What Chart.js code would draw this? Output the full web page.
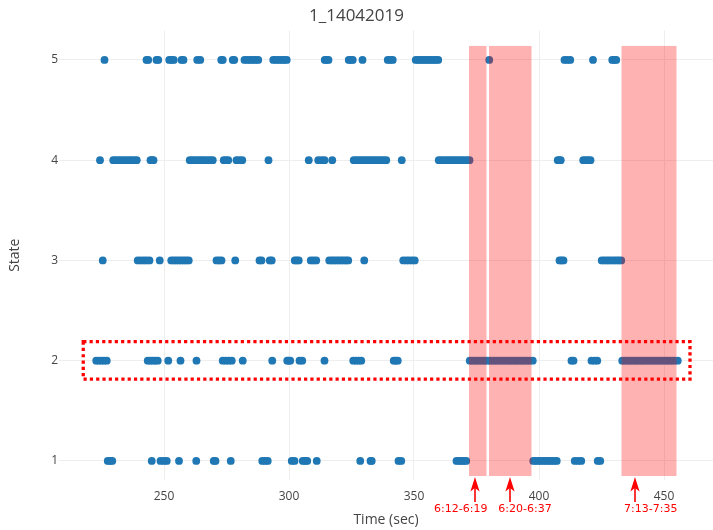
<!DOCTYPE html>
<html>
<head>
<meta charset="utf-8">
<script src="https://cdn.jsdelivr.net/npm/chart.js@4.4.1/dist/chart.umd.min.js"></script>
<style>
  html, body { margin: 0; padding: 0; background: #ffffff; }
  #wrap { width: 713px; height: 530px; }
</style>
</head>
<body>
<div id="wrap"><canvas id="c" width="713" height="530"></canvas></div>
<script>
// ---- data ----
const chartTitle = '1_14042019';
const xTitle = 'Time (sec)';
const yTitle = 'State';
const stateLevels = [1, 2, 3, 4, 5];
const xTickValues = [250, 300, 350, 400, 450];

// observation times (sec) for each state
const state1Times = [227.5, 228.4, 229.3, 245.1, 248.6, 249.9, 251.1, 256.0, 262.9, 269.9, 270.6, 276.7,
  289.3, 290.4, 291.5, 301.1, 302.2, 305.5, 306.4, 307.3, 311.1, 328.5, 332.6, 333.1, 343.8, 344.9,
  367.0, 368.0, 369.0, 369.9, 370.9, 397.7, 398.7, 399.8, 400.8, 401.9, 402.9, 404.0, 405.0, 406.1, 407.1,
  414.3, 415.6, 416.9, 423.5, 424.5];

const state2Times = [222.9, 223.9, 225.0, 226.0, 227.1, 243.5, 244.5, 245.5, 246.5, 247.5, 251.7, 256.6,
  263.0, 273.5, 274.7, 275.9, 277.1, 281.5, 293.3, 299.3, 299.9, 300.5, 304.2, 305.3, 314.2,
  325.7, 326.8, 327.8, 328.9, 341.9, 342.7, 343.5,
  372.3, 373.3, 374.3, 375.3, 376.3, 377.3, 378.3, 379.3, 380.3, 381.3, 382.3, 383.3, 384.3, 385.3,
  386.3, 387.3, 388.3, 389.3, 390.3, 391.3, 392.3, 393.3, 394.3, 395.3, 396.3, 397.5,
  413.0, 413.8, 421.0, 422.2, 423.3,
  433.3, 434.3, 435.3, 436.3, 437.3, 438.3, 439.3, 440.3, 441.3, 442.3, 443.3, 444.3, 445.3, 446.3,
  447.3, 448.3, 449.3, 450.3, 451.3, 452.3, 453.3, 454.3, 455.5];

const state3Times = [225.5, 239.5, 240.7, 241.9, 243.0, 244.2, 248.3, 252.9, 253.9, 254.9, 255.9, 256.9,
  257.9, 258.9, 259.9, 271.0, 272.0, 273.0, 278.5, 288.2, 289.0, 292.3, 293.1, 302.3, 303.1, 303.9,
  308.7, 309.8, 310.9, 316.1, 317.1, 318.0, 319.0, 319.9, 320.9, 321.8, 322.8, 323.7, 330.1,
  345.7, 346.9, 348.0, 349.2, 350.3, 408.2, 409.0, 409.8,
  425.1, 426.1, 427.1, 428.0, 429.0, 430.0, 431.0, 431.9, 432.9];

const state4Times = [224.4, 229.7, 230.7, 231.8, 232.8, 233.9, 234.9, 236.0, 237.0, 238.1, 239.1,
  244.6, 245.2, 245.8, 260.3, 261.3, 262.3, 263.4, 264.4, 265.4, 266.4, 267.5, 268.5, 269.5,
  273.9, 274.8, 275.7, 279.0, 280.1, 281.3, 291.8, 307.9, 311.7, 313.0, 314.2, 317.3,
  325.9, 326.9, 327.9, 328.9, 329.9, 330.9, 331.9, 332.9, 333.9, 334.9, 335.9, 336.9, 337.9, 338.9,
  345.1, 359.9, 360.9, 361.9, 363.0, 364.0, 365.0, 366.0, 367.1, 368.1, 369.1, 370.1, 371.2, 372.2,
  407.5, 408.1, 408.7, 417.7, 418.7, 419.6, 420.6];

const state5Times = [226.2, 243.0, 243.7, 247.0, 247.7, 252.1, 253.0, 253.9, 257.0, 257.8, 263.3, 264.5,
  272.9, 273.5, 277.5, 278.1, 282.2, 283.3, 284.4, 285.5, 286.6, 287.7, 293.7, 294.8, 295.9, 297.0,
  298.0, 299.1, 314.3, 315.0, 315.8, 323.9, 324.7, 325.5, 329.4, 339.5, 340.5, 341.5,
  350.7, 351.7, 352.7, 353.7, 354.7, 355.7, 356.7, 357.7, 358.7, 359.7, 380.1,
  410.2, 411.3, 412.5, 421.6, 429.3, 430.1, 430.9];

// marked intervals (m:ss-m:ss)
const intervalLabels = ['6:12-6:19', '6:20-6:37', '7:13-7:35'];

// ---- annotation placement ----
const shadeRange = [0.85, 5.14];            // vertical extent of shaded bands (state units)
const arrowTimes = [374.4, 388.4, 438.4];   // where the interval arrows point
const labelTimes = [368.7, 394.4, 444.7];   // centres of the interval captions
const highlightBox = { x: [217.7, 460.4], y: [1.817, 2.19] };

const toSec = s => { const [m, sec] = s.split(':').map(Number); return m * 60 + sec; };
const intervals = intervalLabels.map(l => l.split('-').map(toSec));

const seriesByState = [state1Times, state2Times, state3Times, state4Times, state5Times];
const points = stateLevels.flatMap((lvl, i) => seriesByState[i].map(t => ({ x: t, y: lvl })));

const axisFont = { family: "'Open Sans', sans-serif", size: 12 };
const titleFont = { family: "'Open Sans', sans-serif", size: 14 };

const overlayPlugin = {
  id: 'intervalOverlay',
  afterDatasetsDraw(chart) {
    const { ctx, scales: { x, y } } = chart;
    ctx.save();

    // shaded intervals
    ctx.fillStyle = 'rgba(255,0,0,0.3)';
    const yTop = y.getPixelForValue(shadeRange[1]);
    const yBot = y.getPixelForValue(shadeRange[0]);
    intervals.forEach(([a, b]) => {
      const x0 = x.getPixelForValue(a);
      const x1 = x.getPixelForValue(b);
      ctx.fillRect(x0, yTop, x1 - x0, yBot - yTop);
    });

    // dotted highlight around state 2
    ctx.strokeStyle = '#ff0000';
    ctx.lineWidth = 3.3;
    ctx.setLineDash([3.2, 3.1]);
    const bx0 = x.getPixelForValue(highlightBox.x[0]);
    const bx1 = x.getPixelForValue(highlightBox.x[1]);
    const by0 = y.getPixelForValue(highlightBox.y[1]);
    const by1 = y.getPixelForValue(highlightBox.y[0]);
    ctx.strokeRect(bx0, by0, bx1 - bx0, by1 - by0);
    ctx.setLineDash([]);

    // arrows + captions below the axis
    const tipY = y.getPixelForValue(0.84);
    ctx.fillStyle = '#ff0000';
    ctx.lineWidth = 1.6;
    ctx.font = "11px 'DejaVu Sans', sans-serif";
    ctx.textAlign = 'center';
    ctx.textBaseline = 'middle';
    arrowTimes.forEach((t, i) => {
      const ax = x.getPixelForValue(t);
      ctx.beginPath();
      ctx.moveTo(ax, tipY + 10);
      ctx.lineTo(ax, tipY + 25);
      ctx.stroke();
      ctx.beginPath();
      ctx.moveTo(ax, tipY);
      ctx.lineTo(ax - 4.6, tipY + 14.5);
      ctx.lineTo(ax, tipY + 11);
      ctx.lineTo(ax + 4.6, tipY + 14.5);
      ctx.closePath();
      ctx.fill();
      ctx.fillText(intervalLabels[i], x.getPixelForValue(labelTimes[i]), tipY + 32);
    });
    ctx.restore();
  }
};

new Chart(document.getElementById('c'), {
  type: 'scatter',
  data: {
    datasets: [{
      data: points,
      backgroundColor: '#1f77b4',
      borderWidth: 0,
      pointRadius: 3.9,
      pointHoverRadius: 3.9
    }]
  },
  options: {
    responsive: false,
    animation: false,
    events: [],
    layout: { padding: 0, autoPadding: false },
    plugins: {
      legend: { display: false },
      tooltip: { enabled: false },
      title: {
        display: true,
        text: chartTitle,
        color: '#444444',
        font: { family: "'Open Sans', sans-serif", size: 17, weight: 'normal' },
        padding: { top: 6, bottom: 4 }
      }
    },
    scales: {
      x: {
        type: 'linear',
        min: 208,
        max: 469.6,
        afterBuildTicks: s => { s.ticks = xTickValues.map(v => ({ value: v })); },
        afterFit: s => { s.height = 50; s.paddingLeft = 0; s.paddingRight = 0; },
        grid: { color: '#eeeeee', drawTicks: false },
        border: { display: false },
        ticks: { color: '#444444', font: axisFont, padding: 9, maxRotation: 0 },
        title: { display: true, text: xTitle, color: '#444444', font: titleFont, padding: { top: 0, bottom: 2 } }
      },
      y: {
        type: 'linear',
        min: 0.81,
        max: 5.295,
        afterBuildTicks: s => { s.ticks = stateLevels.map(v => ({ value: v })); },
        afterFit: s => { s.width = 59; s.paddingTop = 0; s.paddingBottom = 0; },
        grid: { color: '#eeeeee', drawTicks: false },
        border: { display: false },
        ticks: { color: '#444444', font: axisFont, padding: 1 },
        title: { display: true, text: yTitle, color: '#444444', font: titleFont, padding: { top: 6.6, bottom: 0 } }
      }
    }
  },
  plugins: [overlayPlugin]
});
</script>
</body>
</html>
